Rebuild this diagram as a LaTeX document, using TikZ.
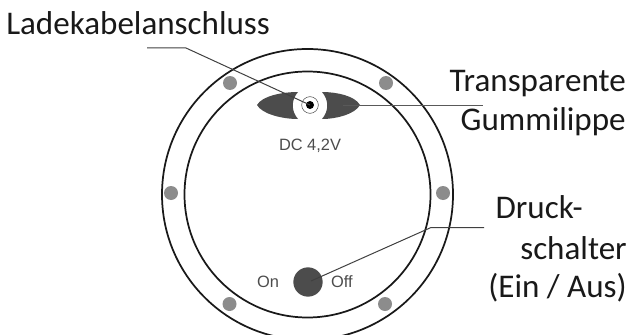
\documentclass[tikz,border=0pt]{standalone}
\usepackage{fontspec}
\setmainfont{Carlito}
\newfontfamily\platefont{Liberation Sans}
\usepackage{tikz}
\usetikzlibrary{positioning,calc}

\begin{document}
\begin{tikzpicture}
[x=.75pt,y=-.75pt,
every node/.style={inner sep=0pt},
callout/.style={font=\fontsize{24.8}{28}\selectfont,text=black!90,anchor=base east},
plate/.style={font=\platefont\fontsize{12.3}{14}\selectfont,text=black!70,anchor=base},
screw/.style={circle,fill=black!45,minimum size=10.5pt},
ring/.style={draw=black!90,line width=1.3pt},
leader/.style={draw=black!75,line width=.75pt}]
\useasboundingbox (0,0) rectangle (631,335);
\begin{scope}
\clip (0,0) rectangle (631,335);
\draw[ring] (307.5,194.5) circle (145.5);
\draw[ring] (307.5,194.5) circle (123);
\end{scope}
% screws
\foreach \x/\y [count=\i] in {230/83,386/83,171/193,443/193,229.5/304,385/304}
\node[screw] (screw\i) at (\x,\y) {};
% charging socket
\fill[black!70] (257,105) .. controls (262,96) and (282,92) .. (298,92)
 .. controls (291,100) and (291,111) .. (298,119)
 .. controls (282,119) and (262,114) .. (257,105) -- cycle;
\fill[black!70] (360,105) .. controls (355,96) and (337,92) .. (322,92)
 .. controls (329,100) and (329,111) .. (322,119)
 .. controls (337,119) and (355,114) .. (360,105) -- cycle;
\node[circle,draw=black!70,line width=.4pt,fill=white,minimum size=12.5pt] (socket) at (310,105) {};
\node[circle,fill=black,minimum size=6pt] (pin) at (310,105) {};
\node[plate] (dc) at (310,150) {DC 4,2V};
% switch
\node[circle,fill=black!70,minimum size=22pt] (switch) at (308,282) {};
\node[plate] (on) at (268,287) {On};
\node[plate] (off) at (342,287) {Off};
% labels
\node[callout,anchor=base west] (ladekabel) at (6,35) {Ladekabelanschluss};
\node[callout] (transparente) at (626,91) {Transparente};
\node[callout] (gummi) at (626,130) {Gummilippe};
\node[callout] (druck) at (583,218) {Druck-};
\node[callout] (schalter) at (627,259) {schalter};
\node[callout] (einaus) at (627,297) {(Ein / Aus)};
% leaders
\coordinate (a1) at (147,48);
\coordinate (a2) at (186,48);
\coordinate (b1) at (343,105);
\coordinate (b2) at (483,105);
\coordinate (c1) at (431,227.5);
\coordinate (c2) at (484,227.5);
\coordinate (c3) at (311,281);
\draw[leader] (a1) -- (a2) -- (pin.center);
\draw[leader,draw=black!65] (b1) -- (b2);
\draw[leader] (c3) -- (c1) -- (c2);
\end{tikzpicture}
\end{document}
